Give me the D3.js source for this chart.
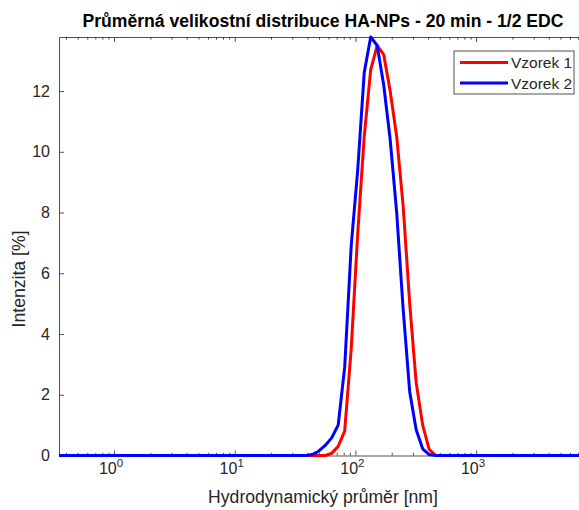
<!DOCTYPE html>
<html>
<head>
<meta charset="utf-8">
<script src="https://cdn.jsdelivr.net/npm/d3@7"></script>
<style>
  body { margin: 0; background: #fff; }
  svg { display: block; font-family: "Liberation Sans", Arial, Helvetica, sans-serif; }
</style>
</head>
<body>
<div id="chart"></div>
<script>
// velikostni distribuce

const sizes = [0.35, 38.8, 43.9, 49.6, 56.2, 63.6, 72.0, 81.5, 92.3, 104.5, 118.3, 133.9,
    151.6, 171.6, 194.2, 219.9, 248.9, 281.8, 318.9, 361.1, 408.7, 462.7, 8300];
const vzorek1 = [0, 0, 0, 0, 0, 0.07, 0.3, 0.8, 3.5, 7.3, 10.5, 12.7,
    13.5, 13.2, 12.0, 10.5, 8.2, 5.0, 2.4, 1.0, 0.2, 0, 0];
const vzorek2 = [0, 0, 0.03, 0.14, 0.33, 0.58, 1.0, 2.9, 6.9, 9.4, 12.6, 13.78,
    13.5, 12.2, 10.4, 8.0, 4.8, 2.1, 0.85, 0.22, 0.03, 0, 0];

const seriesNames = ['Vzorek 1', 'Vzorek 2'];
const seriesColors = ['#ff0000', '#0000ff'];
const yTicks = [0, 2, 4, 6, 8, 10, 12];
const xDecades = [1, 10, 100, 1000];
const decadeExp = ['0', '1', '2', '3'];
const minorMult = [2, 3, 4, 5, 6, 7, 8, 9];

const width = 579;
const height = 510;
const mLeft = 59, mRight = 587, mTop = 37, mBottom = 455.5;
const axisColor = '#262626';

const svg = d3.select('#chart')
    .append('svg')
    .attr('width', width)
    .attr('height', height);

const x = d3.scaleLog().domain([0.35, 8300]).range([mLeft, mRight]);
const y = d3.scaleLinear().domain([0, 13.78]).range([mBottom, mTop]);

// minor ticks
const minorTicks = [];
[0.1, 1, 10, 100, 1000].forEach(d => {
    minorMult.forEach(m => {
        const v = d * m;
        if (v > 0.35 && v < 8300) minorTicks.push(v);
    });
});

svg.append('defs').append('clipPath')
    .attr('id', 'plotclip')
    .append('rect')
    .attr('x', mLeft).attr('y', mTop - 2)
    .attr('width', mRight - mLeft).attr('height', mBottom - mTop + 4);

function styleAxis(g) {
    g.selectAll('path.domain').attr('stroke', axisColor).attr('stroke-width', 0.8);
    g.selectAll('.tick line').attr('stroke', axisColor).attr('stroke-width', 0.8);
    g.selectAll('.tick text').attr('fill', axisColor);
}

// bottom axis
svg.append('g')
    .attr('transform', `translate(0,${mBottom})`)
    .call(d3.axisBottom(x).tickValues(xDecades).tickSizeInner(-5).tickSizeOuter(0).tickFormat(''))
    .call(styleAxis);
svg.append('g')
    .attr('transform', `translate(0,${mBottom})`)
    .call(d3.axisBottom(x).tickValues(minorTicks).tickSizeInner(-2.7).tickSizeOuter(0).tickFormat(''))
    .call(styleAxis)
    .select('path.domain').remove();

// top axis
svg.append('g')
    .attr('transform', `translate(0,${mTop})`)
    .call(d3.axisTop(x).tickValues(xDecades).tickSizeInner(-5).tickSizeOuter(0).tickFormat(''))
    .call(styleAxis);
svg.append('g')
    .attr('transform', `translate(0,${mTop})`)
    .call(d3.axisTop(x).tickValues(minorTicks).tickSizeInner(-2.7).tickSizeOuter(0).tickFormat(''))
    .call(styleAxis)
    .select('path.domain').remove();

// x tick labels with exponent
const xLab = svg.append('g')
    .selectAll('text')
    .data(xDecades)
    .enter()
    .append('text')
    .attr('x', d => x(d) - 3)
    .attr('y', mBottom + 18)
    .attr('text-anchor', 'middle')
    .attr('font-size', 16)
    .attr('fill', axisColor);
xLab.append('tspan').text('10');
xLab.append('tspan')
    .attr('dy', -7)
    .attr('font-size', 11.5)
    .text((d, i) => decadeExp[i]);

// left axis
svg.append('g')
    .attr('transform', `translate(${mLeft},0)`)
    .call(d3.axisLeft(y).tickValues(yTicks).tickSizeInner(-5).tickSizeOuter(0).tickPadding(9))
    .call(styleAxis)
    .selectAll('.tick text')
    .attr('font-size', 16)
    .attr('font-family', '"Liberation Sans", Arial, sans-serif');

// right axis
svg.append('g')
    .attr('transform', `translate(${mRight},0)`)
    .call(d3.axisRight(y).tickValues(yTicks).tickSizeInner(-5).tickSizeOuter(0).tickFormat(''))
    .call(styleAxis);

// data lines
const line = d3.line()
    .x((d, i) => x(sizes[i]))
    .y(d => y(d));

svg.append('g')
    .attr('clip-path', 'url(#plotclip)')
    .selectAll('path')
    .data([vzorek1, vzorek2])
    .enter()
    .append('path')
    .attr('d', d => line(d))
    .attr('fill', 'none')
    .attr('stroke', (d, i) => seriesColors[i])
    .attr('stroke-width', 3)
    .attr('stroke-linejoin', 'round');

// title
svg.append('text')
    .attr('x', (mLeft + mRight) / 2)
    .attr('y', 27)
    .attr('text-anchor', 'middle')
    .attr('font-size', 17.6)
    .attr('font-weight', 'bold')
    .attr('fill', '#000')
    .text('Průměrná velikostní distribuce HA-NPs - 20 min - 1/2 EDC');

// axis labels
svg.append('text')
    .attr('x', (mLeft + mRight) / 2)
    .attr('y', 503)
    .attr('text-anchor', 'middle')
    .attr('font-size', 17.6)
    .attr('fill', axisColor)
    .text('Hydrodynamický průměr [nm]');

svg.append('text')
    .attr('transform', 'translate(25,279) rotate(-90)')
    .attr('text-anchor', 'middle')
    .attr('font-size', 17.6)
    .attr('fill', axisColor)
    .text('Intenzita [%]');

// legend
const legend = svg.append('g').attr('transform', 'translate(454,51)');
legend.append('rect')
    .attr('width', 120)
    .attr('height', 43)
    .attr('fill', '#fff')
    .attr('stroke', axisColor)
    .attr('stroke-width', 0.8);
const item = legend.selectAll('g.item')
    .data(seriesNames)
    .enter()
    .append('g')
    .attr('class', 'item')
    .attr('transform', (d, i) => `translate(0,${11.5 + i * 20.5})`);
item.append('line')
    .attr('x1', 6).attr('x2', 54)
    .attr('stroke', (d, i) => seriesColors[i])
    .attr('stroke-width', 3);
item.append('text')
    .attr('x', 57)
    .attr('y', 5.5)
    .attr('font-size', 15.5)
    .attr('fill', axisColor)
    .text(d => d);
</script>
</body>
</html>
